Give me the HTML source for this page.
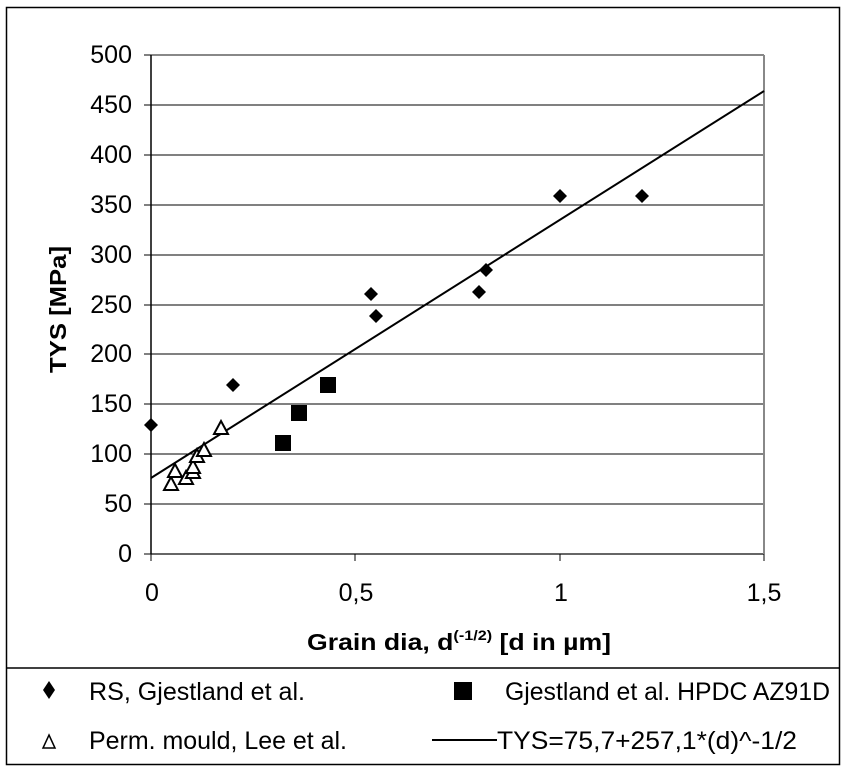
<!DOCTYPE html>
<html><head><meta charset="utf-8"><style>
html,body{margin:0;padding:0;background:#fff;}
svg{display:block;font-family:"Liberation Sans",Arial,sans-serif;}
</style></head><body>
<svg width="845" height="771" viewBox="0 0 845 771" xmlns="http://www.w3.org/2000/svg">
<rect x="0" y="0" width="845" height="771" fill="#fff"/>
<rect x="6.5" y="7.5" width="833" height="757" fill="none" stroke="#000" stroke-width="1.5"/>
<line x1="6" y1="668" x2="840" y2="668" stroke="#000" stroke-width="1.5"/>
<g stroke="#000" stroke-width="1">
<line x1="151" y1="55" x2="764" y2="55" stroke="#888" stroke-width="2"/>
<line x1="151" y1="105" x2="764" y2="105"/>
<line x1="151" y1="155" x2="764" y2="155"/>
<line x1="151" y1="205" x2="764" y2="205"/>
<line x1="151" y1="255" x2="764" y2="255"/>
<line x1="151" y1="305" x2="764" y2="305"/>
<line x1="151" y1="354" x2="764" y2="354"/>
<line x1="151" y1="404" x2="764" y2="404"/>
<line x1="151" y1="454" x2="764" y2="454"/>
<line x1="151" y1="504" x2="764" y2="504"/>
<line x1="151" y1="554" x2="764" y2="554" stroke="#666" stroke-width="2"/>
<line x1="764" y1="55" x2="764" y2="554" stroke="#888" stroke-width="2"/>
<line x1="151" y1="55" x2="151" y2="554" stroke-width="1.5"/>
<line x1="144" y1="55" x2="151" y2="55"/><line x1="144" y1="105" x2="151" y2="105"/>
<line x1="144" y1="155" x2="151" y2="155"/><line x1="144" y1="205" x2="151" y2="205"/>
<line x1="144" y1="255" x2="151" y2="255"/><line x1="144" y1="305" x2="151" y2="305"/>
<line x1="144" y1="354" x2="151" y2="354"/><line x1="144" y1="404" x2="151" y2="404"/>
<line x1="144" y1="454" x2="151" y2="454"/><line x1="144" y1="504" x2="151" y2="504"/>
<line x1="144" y1="554" x2="151" y2="554"/>
<line x1="151" y1="554" x2="151" y2="561"/><line x1="355" y1="554" x2="355" y2="561"/>
<line x1="560" y1="554" x2="560" y2="561"/><line x1="764" y1="554" x2="764" y2="561"/>
</g>
<g font-size="25" text-anchor="end" fill="#000">
<text x="132" y="63">500</text><text x="132" y="113">450</text><text x="132" y="163">400</text>
<text x="132" y="213">350</text><text x="132" y="263">300</text><text x="132" y="313">250</text>
<text x="132" y="362">200</text><text x="132" y="412">150</text><text x="132" y="462">100</text>
<text x="132" y="512">50</text><text x="132" y="562">0</text>
</g>
<g font-size="25" text-anchor="middle">
<text x="152" y="601">0</text><text x="356" y="601">0,5</text>
<text x="561" y="601">1</text><text x="764" y="601">1,5</text>
</g>
<text x="0" y="0" transform="translate(66,373) rotate(-90)" font-size="23" font-weight="bold" textLength="127" lengthAdjust="spacingAndGlyphs">TYS [MPa]</text>
<text x="307" y="650" font-size="23" font-weight="bold" textLength="304" lengthAdjust="spacingAndGlyphs">Grain dia, d<tspan font-size="14" dy="-10">(-1/2)</tspan><tspan dy="10"> [d in µm]</tspan></text>
<line x1="151" y1="478" x2="764" y2="91" stroke="#000" stroke-width="2"/>
<g fill="#000">
<path d="M151 418 l7 7 l-7 7 l-7 -7z"/>
<path d="M233 378 l7 7 l-7 7 l-7 -7z"/>
<path d="M371 287 l7 7 l-7 7 l-7 -7z"/>
<path d="M376 309 l7 7 l-7 7 l-7 -7z"/>
<path d="M479 285 l7 7 l-7 7 l-7 -7z"/>
<path d="M486 263 l7 7 l-7 7 l-7 -7z"/>
<path d="M560 189 l7 7 l-7 7 l-7 -7z"/>
<path d="M642 189 l7 7 l-7 7 l-7 -7z"/>
<rect x="275" y="435" width="16" height="16"/>
<rect x="291" y="405" width="16" height="16"/>
<rect x="320" y="377" width="16" height="16"/>
</g>
<g fill="#fff" stroke="#000" stroke-width="2">
<path d="M171 477 l7 13 h-14z"/>
<path d="M186 471 l7 13 h-14z"/>
<path d="M193 465 l7 13 h-14z"/>
<path d="M193 460 l7 13 h-14z"/>
<path d="M175 464 l7 13 h-14z"/>
<path d="M197 449 l7 13 h-14z"/>
<path d="M204 443 l7 13 h-14z"/>
<path d="M221 421 l7 13 h-14z"/>
</g>
<path d="M49 681 l6 9 l-6 9 l-6 -9z" fill="#000"/>
<text x="89" y="700" font-size="25" textLength="216" lengthAdjust="spacingAndGlyphs">RS, Gjestland et al.</text>
<rect x="454" y="682" width="18" height="18" fill="#000"/>
<text x="505" y="700" font-size="25" textLength="325" lengthAdjust="spacingAndGlyphs">Gjestland et al. HPDC AZ91D</text>
<path d="M49 735 l6 13 h-12z" fill="#fff" stroke="#000" stroke-width="1.5"/>
<text x="89" y="749" font-size="25" textLength="258" lengthAdjust="spacingAndGlyphs">Perm. mould, Lee et al.</text>
<line x1="432" y1="740" x2="497" y2="740" stroke="#000" stroke-width="2"/>
<text x="497" y="749" font-size="25" textLength="300" lengthAdjust="spacingAndGlyphs">TYS=75,7+257,1*(d)^-1/2</text>
</svg>
</body></html>
